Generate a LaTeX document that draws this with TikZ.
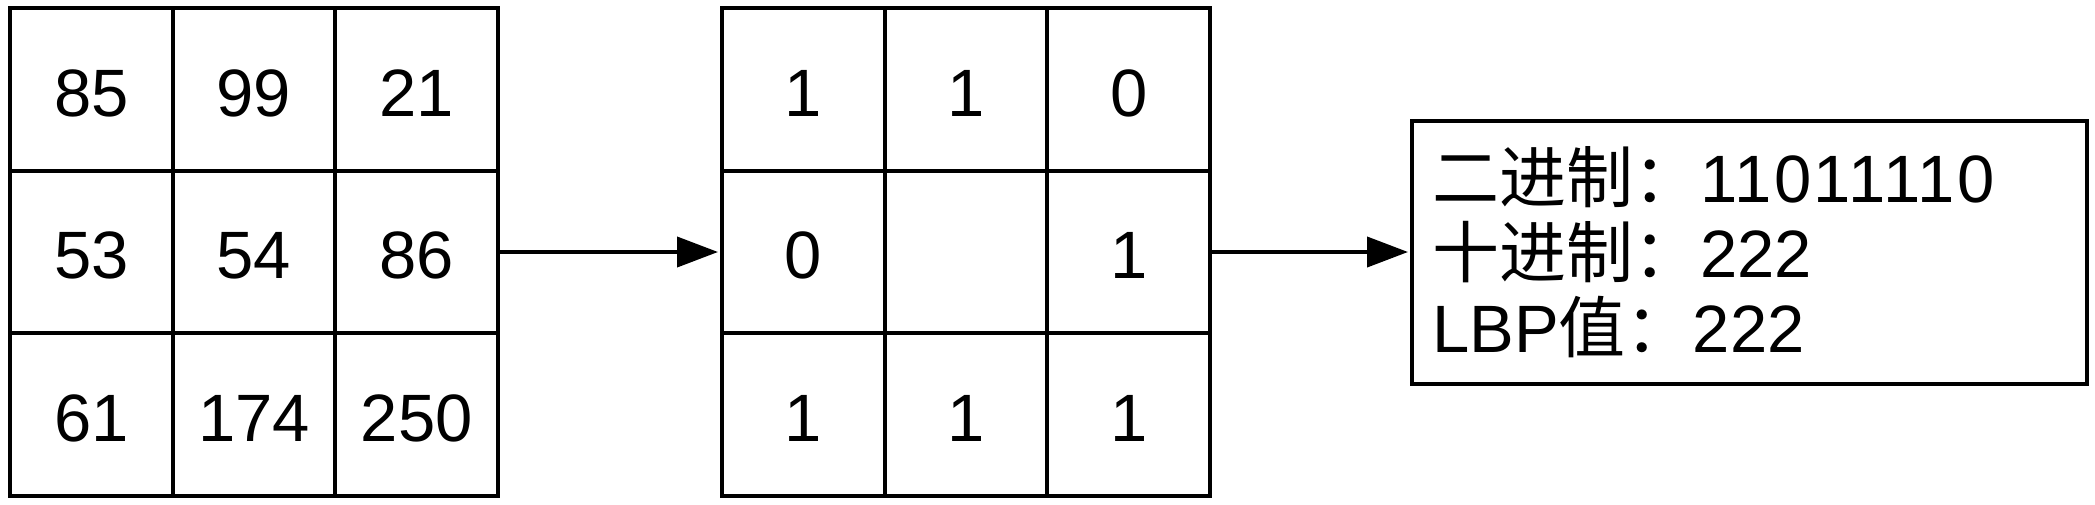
\documentclass[tikz,border=0pt]{standalone}
\usepackage{fontspec}
\setmainfont{Liberation Sans}
\newfontfamily\cjk{Noto Sans CJK SC}
\usetikzlibrary{arrows.meta}
\tikzset{
  cell/.style={draw, line width=4pt, minimum width=162.67pt, minimum height=162.67pt,
    inner sep=0pt, text height=53.5pt, text depth=0pt,
    font=\fontsize{67pt}{75pt}\selectfont},
  conn/.style={line width=4pt, -{Triangle[length=41pt,width=30pt]}},
  resbox/.style={draw, line width=4pt, minimum width=675pt, minimum height=263pt, inner sep=0pt},
  txt/.style={anchor=base west, inner sep=0pt, font=\fontsize{67pt}{75pt}\selectfont}
}
\begin{document}
\begin{tikzpicture}[x=1pt,y=-1pt]
\useasboundingbox[fill=white] (0,0) rectangle (2095,504);
% left grid
\node[cell] (L11) at (91.33,89.33) {85};
\node[cell] (L12) at (254,89.33) {99};
\node[cell] (L13) at (416.67,89.33) {21};
\node[cell] (L21) at (91.33,252) {53};
\node[cell] (L22) at (254,252) {54};
\node[cell] (L23) at (416.67,252) {86};
\node[cell] (L31) at (91.33,414.67) {61};
\node[cell] (L32) at (254,414.67) {174};
\node[cell] (L33) at (416.67,414.67) {250};
% middle grid
\node[cell] (M11) at (803.33,89.33) {1};
\node[cell] (M12) at (966,89.33) {1};
\node[cell] (M13) at (1128.67,89.33) {0};
\node[cell] (M21) at (803.33,252) {0};
\node[cell] (M22) at (966,252) {};
\node[cell] (M23) at (1128.67,252) {1};
\node[cell] (M31) at (803.33,414.67) {1};
\node[cell] (M32) at (966,414.67) {1};
\node[cell] (M33) at (1128.67,414.67) {1};
% result box
\node[resbox] (res) at (1749.5,252.5) {};
\node[txt] (t1) at (1432,202) {{\cjk 二进制：}{\addfontfeature{LetterSpace=3.5}11011110}};
\node[txt] (t2) at (1432,277) {{\cjk 十进制：}222};
\node[txt] (t3) at (1432,352) {LBP{\cjk 值：}222};
% connectors
\draw[conn, shorten >=2pt] (L23.east) -- (M21.west);
\draw[conn, shorten >=2pt] (M23.east) -- (M23.east -| res.west);
\end{tikzpicture}
\end{document}
